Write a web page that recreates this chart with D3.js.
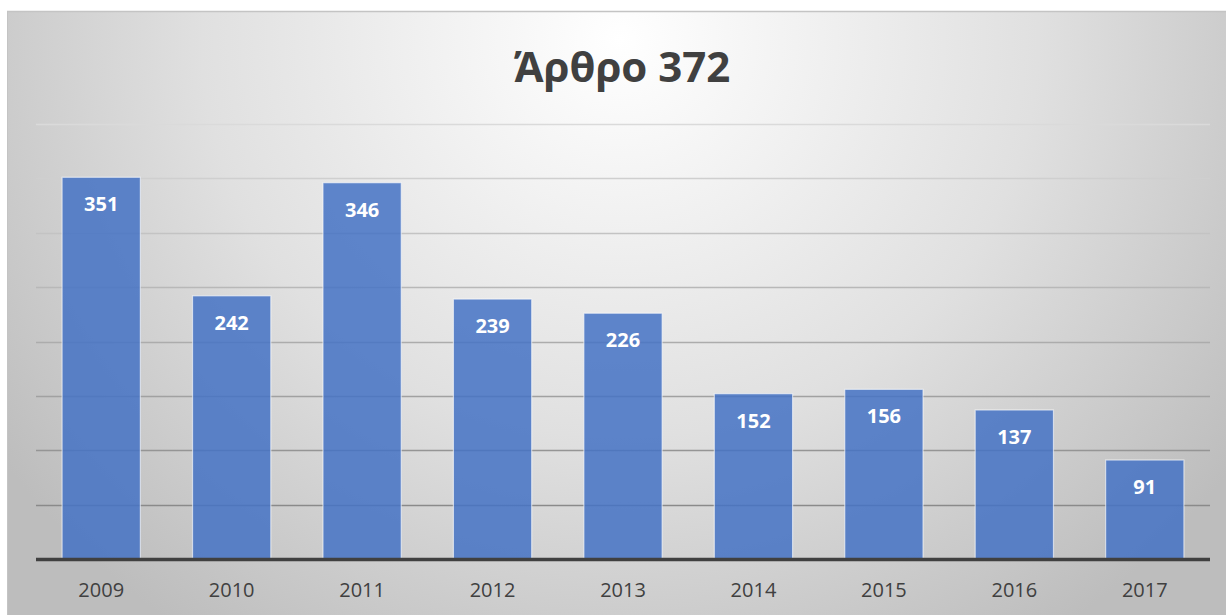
<!DOCTYPE html>
<html>
<head>
<meta charset="utf-8">
<script src="https://cdn.jsdelivr.net/npm/d3@7"></script>
<style>
  body { margin: 0; background: #fff; }
  svg { display: block; }
</style>
</head>
<body>
<svg width="1226" height="615"></svg>
<script>
const years = ["2009", "2010", "2011", "2012", "2013", "2014", "2015", "2016", "2017"];
const counts = [351, 242, 346, 239, 226, 152, 156, 137, 91];
const gridValues = [50, 100, 150, 200, 250, 300, 350, 400];
const chartTitle = "Άρθρο 372";

const svg = d3.select("svg");
const width = +svg.attr("width");
const height = +svg.attr("height");
const margin = { top: 124, right: 16, bottom: 56, left: 36 };

const defs = svg.append("defs");
const bg = defs.append("radialGradient")
  .attr("id", "bg")
  .attr("gradientUnits", "userSpaceOnUse")
  .attr("cx", 620).attr("cy", 40).attr("r", 760)
  .attr("gradientTransform", "translate(620,40) scale(1,0.95) translate(-620,-40)");
bg.append("stop").attr("offset", 0).attr("stop-color", "#ffffff");
bg.append("stop").attr("offset", 0.55).attr("stop-color", "#e0e0e0");
bg.append("stop").attr("offset", 1).attr("stop-color", "#bdbdbd");

// chart area frame
svg.append("rect")
  .attr("x", 7).attr("y", 11)
  .attr("width", width - 7).attr("height", height - 11)
  .attr("fill", "url(#bg)");
svg.append("line")
  .attr("x1", 7).attr("x2", width).attr("y1", 11.5).attr("y2", 11.5)
  .attr("stroke", "#c4c4c4").attr("stroke-width", 1.5);
svg.append("line")
  .attr("x1", 7.5).attr("x2", 7.5).attr("y1", 11).attr("y2", height)
  .attr("stroke", "#c4c4c4").attr("stroke-width", 1);

const x = d3.scaleBand()
  .domain(years)
  .range([margin.left, width - margin.right])
  .paddingInner(0.4)
  .paddingOuter(0.2);

const y = d3.scaleLinear()
  .domain([0, 400])
  .range([height - margin.bottom, margin.top]);

const gridColor = d3.scaleLinear()
  .domain([50, 400])
  .range(["#8a8a8a", "#dadada"]);

// gridlines
svg.append("g")
  .selectAll("line")
  .data(gridValues)
  .enter()
  .append("line")
  .attr("x1", margin.left)
  .attr("x2", width - margin.right)
  .attr("y1", d => Math.round(y(d)) + 0.5)
  .attr("y2", d => Math.round(y(d)) + 0.5)
  .attr("stroke", d => gridColor(d))
  .attr("stroke-width", 1.5);

// bars
svg.append("g")
  .selectAll("rect")
  .data(counts)
  .enter()
  .append("rect")
  .attr("x", (d, i) => x(years[i]))
  .attr("y", d => y(d))
  .attr("width", x.bandwidth())
  .attr("height", d => y(0) - y(d))
  .attr("fill", "#4472c4")
  .attr("fill-opacity", 0.85)
  .attr("stroke", "#ffffff")
  .attr("stroke-opacity", 0.6)
  .attr("stroke-width", 1.2);

// value labels
svg.append("g")
  .selectAll("text")
  .data(counts)
  .enter()
  .append("text")
  .attr("x", (d, i) => x(years[i]) + x.bandwidth() / 2)
  .attr("y", d => y(d) + 34)
  .attr("text-anchor", "middle")
  .attr("font-family", "'Open Sans', sans-serif")
  .attr("font-weight", "bold")
  .attr("font-size", 20)
  .attr("fill", "#ffffff")
  .text(d => d);

// baseline
svg.append("line")
  .attr("x1", margin.left)
  .attr("x2", width - margin.right)
  .attr("y1", y(0) + 0.5)
  .attr("y2", y(0) + 0.5)
  .attr("stroke", "#404040")
  .attr("stroke-width", 3.5);

// x axis labels
const xAxis = d3.axisBottom(x).tickSize(0).tickPadding(22);
const gx = svg.append("g")
  .attr("transform", `translate(0, ${y(0) + 2})`)
  .call(xAxis);
gx.select(".domain").remove();
gx.selectAll("text")
  .attr("font-family", "'Open Sans', sans-serif")
  .attr("font-size", 20)
  .attr("fill", "#404040");

// title
svg.append("text")
  .attr("x", 622)
  .attr("y", 82)
  .attr("text-anchor", "middle")
  .attr("font-family", "'Open Sans', sans-serif")
  .attr("font-weight", "bold")
  .attr("font-size", 42)
  .attr("fill", "#404040")
  .text(chartTitle);
</script>
</body>
</html>
